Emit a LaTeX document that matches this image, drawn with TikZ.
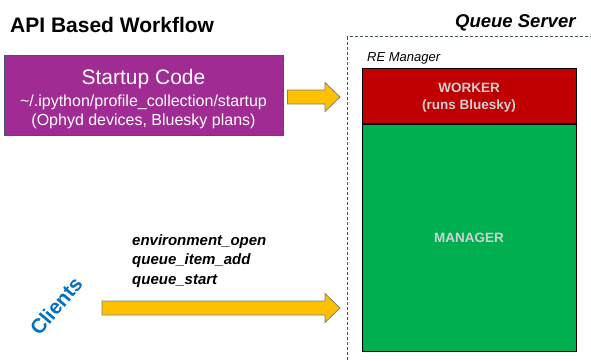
\documentclass[tikz,border=0pt]{standalone}
\usepackage{fontspec}
\setmainfont{Liberation Sans}
\usetikzlibrary{calc}
\definecolor{qpurple}{HTML}{A02B93}
\definecolor{qred}{HTML}{C00000}
\definecolor{qgreen}{HTML}{00B050}
\definecolor{qgold}{HTML}{FFC000}
\definecolor{qblue}{HTML}{0070C0}
\definecolor{qslate}{HTML}{44546A}
\definecolor{qedge}{HTML}{7F7F7F}
\definecolor{qlight}{HTML}{D0D0D0}

% block arrow from #1 to #2 (same height)
\newcommand{\blockarrow}[2]{%
  \draw[arrowfill] ($(#1)+(0,-7)$) -- ($(#2)+(-15,-7)$) -- ($(#2)+(-15,-14.5)$)
    -- (#2) -- ($(#2)+(-15,14.5)$) -- ($(#2)+(-15,7)$) -- ($(#1)+(0,7)$) -- cycle;}

\begin{document}
\begin{tikzpicture}[x=1pt,y=-1pt,every node/.style={inner sep=0pt},
  box/.style={draw=black,line width=.8pt,minimum width=214pt},
  boxtext/.style={text=qlight,font=\bfseries\fontsize{13.5}{16}\selectfont,anchor=base},
  cmd/.style={font=\bfseries\itshape\fontsize{15}{18}\selectfont,anchor=base west},
  arrowfill/.style={fill=qgold,draw=qedge,line width=.8pt,line join=miter}]
  \clip (0,0) rectangle (591,360);
  \useasboundingbox (0,0) rectangle (591,360);
  %
  \node[font=\bfseries\fontsize{21}{24}\selectfont,anchor=base west] (title) at (10,32) {API Based Workflow};
  %
  \node[draw=qslate,fill=qpurple,line width=.8pt,minimum width=279pt,minimum height=80pt] (startup) at (143.5,95) {};
  \node[text=white,font=\fontsize{21}{24}\selectfont,anchor=base] (startuptitle) at (143.5,84) {Startup Code};
  \node[text=white,font=\fontsize{16}{19}\selectfont,anchor=base] (startuppath) at (143.5,106) {\textasciitilde/.ipython/profile\_collection/startup};
  \node[text=white,font=\fontsize{16}{19}\selectfont,anchor=base] (startupnote) at (143.5,125) {(Ophyd devices, Bluesky plans)};
  %
  \node[draw=qslate,dash pattern=on 3pt off 2pt,line width=1pt,minimum width=300pt,minimum height=400pt,anchor=north west] (qserver) at (347,36) {};
  \node[font=\bfseries\itshape\fontsize{18.5}{22}\selectfont,anchor=base west] (qlabel) at (455,27) {Queue Server};
  \node[font=\itshape\fontsize{13}{16}\selectfont,anchor=base west] (relabel) at (367,61) {RE Manager};
  %
  \node[box,fill=qred,minimum height=55pt,anchor=north west] (worker) at (362,68) {};
  \node[box,fill=qgreen,minimum height=227pt,anchor=north] (manager) at (worker.south) {};
  \node[boxtext] (workertitle) at (469,92) {WORKER};
  \node[boxtext] (workernote) at (469,109) {(runs Bluesky)};
  \node[boxtext] (managertitle) at (469,242) {MANAGER};
  %
  \foreach \name/\yy in {environment\_open/245,queue\_item\_add/264.5,queue\_start/284}{
    \node[cmd] (cmd\yy) at (132,\yy) {\name};
  }
  \node[text=qblue,font=\bfseries\fontsize{20.5}{24}\selectfont,rotate=50] (clients) at (56,306) {Clients};
  %
  \coordinate (startout) at ($(startup.east)+(4,2)$);
  \coordinate (startin) at ($(qserver.west |- startout)+(-7,0)$);
  \coordinate (clientsout) at (102,308);
  \coordinate (clientsin) at ($(qserver.west |- clientsout)+(-7,0)$);
  \blockarrow{startout}{startin}
  \blockarrow{clientsout}{clientsin}
\end{tikzpicture}
\end{document}
